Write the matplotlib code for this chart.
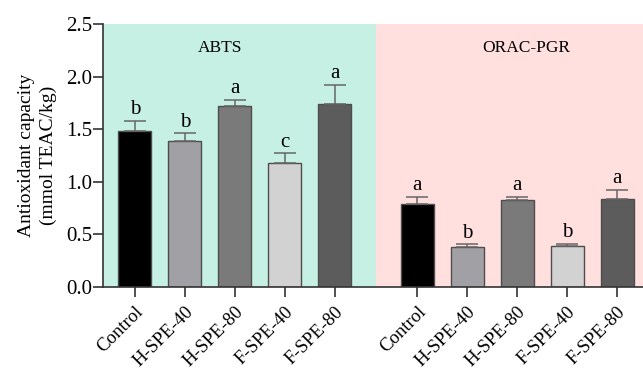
import matplotlib
matplotlib.use("Agg")
import matplotlib.pyplot as plt
import numpy as np

plt.rcParams['font.family'] = ['Liberation Serif', 'DejaVu Serif']

groups = ["Control", "H-SPE-40", "H-SPE-80", "F-SPE-40", "F-SPE-80"]
abts_vals = [1.48, 1.39, 1.72, 1.18, 1.74]
abts_err = [0.10, 0.07, 0.06, 0.09, 0.18]
abts_letters = ["b", "b", "a", "c", "a"]
orac_vals = [0.79, 0.38, 0.83, 0.39, 0.84]
orac_err = [0.07, 0.025, 0.03, 0.02, 0.085]
orac_letters = ["a", "b", "a", "b", "a"]
panel_titles = ["ABTS", "ORAC-PGR"]
yticks = [0.0, 0.5, 1.0, 1.5, 2.0, 2.5]

bar_colors = ["#000000", "#a1a1a5", "#7a7a7a", "#d2d2d2", "#5c5c5c"]
bg_colors = ["#c6f0e3", "#ffe0de"]

fig = plt.figure(figsize=(6.43, 3.73), dpi=100)
ax = fig.add_axes([103/643, 1 - 287/373, (643-103)/643, (287-24)/373])

offset = 5.65
x1 = np.arange(len(groups))
x2 = x1 + offset
xmin, xmax = -0.64, offset + 4.52
boundary = (x1[-1] + x2[0]) / 2

ax.axvspan(xmin, boundary, color=bg_colors[0], zorder=0, lw=0)
ax.axvspan(boundary, xmax, color=bg_colors[1], zorder=0, lw=0)

w = 0.66
for xs, vals, errs, letters in [(x1, abts_vals, abts_err, abts_letters),
                                (x2, orac_vals, orac_err, orac_letters)]:
    ax.bar(xs, vals, width=w, color=bar_colors, edgecolor="#4d4d4d", linewidth=1.0, zorder=2)
    ax.errorbar(xs, vals, yerr=[np.zeros(len(errs)), errs], fmt="none",
                ecolor="#666666", elinewidth=1.1, capsize=8, capthick=1.1, zorder=3)
    for x, v, e, l in zip(xs, vals, errs, letters):
        ax.text(x, v + e + 0.015, l, ha="center", va="bottom", fontsize=15, zorder=4)

ax.text(1.7, 2.27, panel_titles[0], ha="center", va="center", fontsize=12.5)
ax.text(offset + 2.18, 2.27, panel_titles[1], ha="center", va="center", fontsize=12.5)

ax.set_xlim(xmin, xmax)
ax.set_ylim(0, 2.5)
ax.set_yticks(yticks)
ax.set_yticklabels([f"{t:.1f}" for t in yticks], fontsize=15)
ax.set_xticks(np.concatenate([x1, x2]))
ax.set_xticklabels(groups + groups, rotation=45, ha="right", rotation_mode="anchor", fontsize=13.5)
ax.tick_params(axis="y", length=7, width=1.2, color="#333333", pad=1)
ax.tick_params(axis="x", length=7, width=1.2, color="#333333", pad=5)
for s in ["top", "right"]:
    ax.spines[s].set_visible(False)
for s in ["left", "bottom"]:
    ax.spines[s].set_linewidth(1.2)
    ax.spines[s].set_color("#333333")
ax.set_ylabel("Antioxidant capacity\n(mmol TEAC/kg)", fontsize=14, labelpad=6, linespacing=1.4)

fig.savefig("out.png", dpi=100)
